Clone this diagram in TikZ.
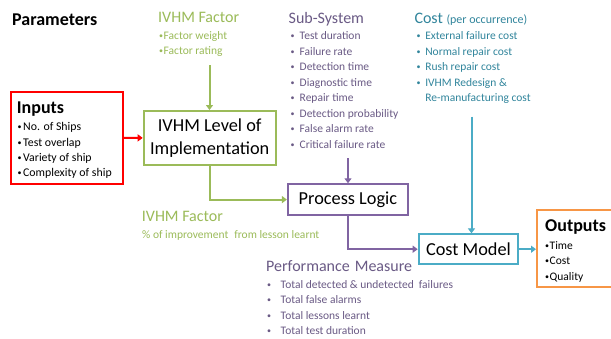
\documentclass[tikz,border=0pt]{standalone}
\usepackage{fontspec}
\setmainfont{Carlito}
\usetikzlibrary{arrows.meta}

\definecolor{ivhmgreen}{HTML}{9BBB59}
\definecolor{subpurple}{HTML}{6A5A85}
\definecolor{procpurple}{HTML}{8064A2}
\definecolor{costteal}{HTML}{31859C}
\definecolor{costblue}{HTML}{4BACC6}
\definecolor{outorange}{HTML}{F79646}

\newcommand{\fsize}[2]{\fontsize{#1}{#2}\selectfont}
\newcommand{\bul}[1]{\makebox[#1][l]{\raisebox{1.1pt}{\fsize{8}{8}\textbullet}}}

\begin{document}
\begin{tikzpicture}
[
	x=1pt, y=-1pt,
	head/.style={anchor=base west,inner sep=0pt,font=\fsize{16}{20}},
	items/.style={anchor=north west,inner sep=0pt,align=left,font=\fsize{11.5}{15.45}},
	block/.style={draw,line width=2pt,inner sep=0pt,align=center,font=\fsize{18.3}{23}},
	link/.style={line width=2pt,-{Triangle[length=5pt,width=7pt]}}
]

	\useasboundingbox (0,0) rectangle (611,338);
	\fill[white] (0,0) rectangle (611,338);

	\node[anchor=base west,inner sep=0pt,font=\bfseries\fsize{18}{20}] at (12,25) (params) {Parameters};

	% inputs
	\node[block,draw=red,minimum width=112pt,minimum height=92pt] at (67,137.8) (inputs) {};
	\node[anchor=base west,inner sep=0pt,font=\bfseries\fsize{18}{20}] at (16.7,113.3) (inputs-head) {Inputs};
	\node[items,font=\fsize{11.8}{15.3}] at (17.5,122.5) (inputs-list)
		{\bul{5.5pt}No. of Ships\\\bul{5.5pt}Test overlap\\\bul{5.5pt}Variety of ship\\\bul{5.5pt}Complexity of ship};

	% IVHM factor on top
	\node[head,text=ivhmgreen] at (158,22.7) (factor-head) {IVHM Factor};
	\node[items,text=ivhmgreen] at (159,31.1) (factor-list) {\bul{4.5pt}Factor weight\\\bul{4.5pt}Factor rating};
	\coordinate (factor-end) at (209.5,65);

	\node[block,draw=ivhmgreen,minimum width=132pt,minimum height=54pt] at (209.7,138) (ivhm) {IVHM Level of\\Implementation};

	% sub-system
	\node[head,text=subpurple] at (288.5,23.3) (sub-head) {Sub-System};
	\node[items,text=subpurple] at (290.5,31.8) (sub-list)
		{\bul{9pt}Test duration\\\bul{9pt}Failure rate\\\bul{9pt}Detection time\\\bul{9pt}Diagnostic time\\
		 \bul{9pt}Repair time\\\bul{9pt}Detection probability\\\bul{9pt}False alarm rate\\\bul{9pt}Critical failure rate};
	\coordinate (sub-end) at (348,158);

	\node[block,draw=procpurple,minimum width=120pt,minimum height=30.7pt] at (347.9,199.6) (process) {Process Logic};

	% cost
	\node[head,text=costteal] at (414.3,23.3) (cost-head) {Cost {\fsize{12}{14}(per occurrence)}};
	\node[items,text=costteal] at (416.3,31.8) (cost-list)
		{\bul{8.8pt}External failure cost\\\bul{8.8pt}Normal repair cost\\\bul{8.8pt}Rush repair cost\\\bul{8.8pt}IVHM Redesign \&\\
		 \hspace{8.8pt}Re-manufacturing cost};
	\coordinate (cost-end) at (471.5,116.7);

	\node[block,draw=costblue,minimum width=99.6pt,minimum height=29.7pt] at (468.5,249.2) (model) {Cost Model};

	% outputs
	\node[block,draw=outorange,minimum width=80pt,minimum height=77pt] at (577,248.8) (outputs) {};
	\node[anchor=base west,inner sep=0pt,font=\bfseries\fsize{18}{20}] at (545,231.7) (outputs-head) {Outputs};
	\node[items] at (545,241.1) (outputs-list) {\bul{4.5pt}Time\\\bul{4.5pt}Cost\\\bul{4.5pt}Quality};

	% lessons learnt and performance
	\node[head,text=ivhmgreen] at (141.7,221.7) (lesson-head) {IVHM Factor};
	\node[anchor=base west,inner sep=0pt,font=\fsize{11.5}{14},text=ivhmgreen] at (142,238.3) (lesson-text)
		{\% of improvement\hspace{6pt}from lesson learnt};
	\node[head,text=subpurple] at (266,271) (perf-head) {Performance\hspace{5pt}Measure};
	\node[items,text=subpurple] at (267,280.1) (perf-list)
		{\bul{13.5pt}Total detected \& undetected\hspace{5pt}failures\\\bul{13.5pt}Total false alarms\\
		 \bul{13.5pt}Total lessons learnt\\\bul{13.5pt}Total test duration};

	% connectors
	\draw[link,red] (inputs) -- (ivhm);
	\draw[link,ivhmgreen] (factor-end) -- (factor-end |- ivhm.north);
	\draw[link,ivhmgreen] (ivhm.south) |- (process.west);
	\draw[link,procpurple] (sub-end) -- (sub-end |- process.north);
	\draw[link,procpurple] (process.south) |- (model.west);
	\draw[link,costblue] (cost-end) -- (cost-end |- model.north);
	\draw[link,costblue] (model.east) -- (model.east -| outputs.west);

\end{tikzpicture}
\end{document}
